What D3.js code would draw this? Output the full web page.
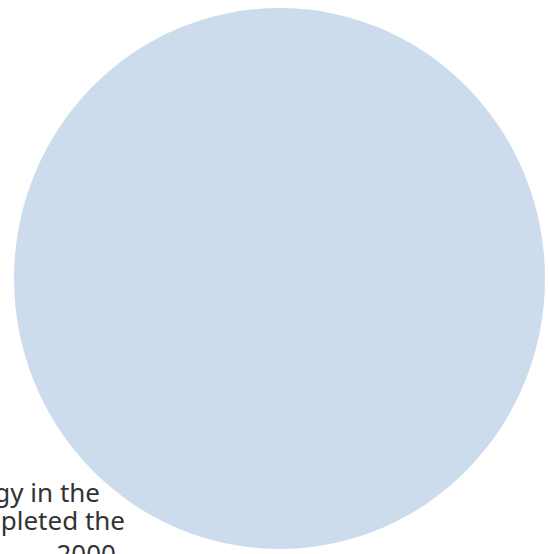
<!DOCTYPE html>
<html>
<head>
<meta charset="utf-8">
<script src="https://cdn.jsdelivr.net/npm/d3@7"></script>
<style>
  html, body { margin: 0; padding: 0; background: #fff; overflow: hidden; }
  svg { display: block; }
</style>
</head>
<body>
<script>
// Data
const bubbleLabels = ["All"];
const bubbleValues = [100];
const annotationLines = ["technology in the", "who completed the", "2000"];

const width = 548, height = 554;
const svg = d3.select("body").append("svg")
  .attr("width", width).attr("height", height);

const rScale = d3.scaleSqrt().domain([0, d3.max(bubbleValues)]).range([0, 268]);
const xScale = d3.scaleBand().domain(bubbleLabels).range([14, 545]);

// annotation text (behind the bubble)
const lineYs = [502, 530, 563];
const lineRight = [100, 125, 116];
svg.append("g").selectAll("text")
  .data(annotationLines)
  .join("text")
  .attr("x", (d, i) => lineRight[i])
  .attr("y", (d, i) => lineYs[i])
  .attr("text-anchor", "end")
  .attr("font-family", "'Noto Sans', sans-serif")
  .attr("font-size", 26)
  .attr("fill", "#333")
  .text(d => d);

svg.append("g").selectAll("ellipse")
  .data(bubbleValues)
  .join("ellipse")
  .attr("cx", (d, i) => xScale(bubbleLabels[i]) + xScale.bandwidth() / 2)
  .attr("cy", 278.5)
  .attr("rx", d => xScale.bandwidth() / 2)
  .attr("ry", d => rScale(d) + 2.5)
  .attr("fill", "#cddced");
</script>
</body>
</html>
